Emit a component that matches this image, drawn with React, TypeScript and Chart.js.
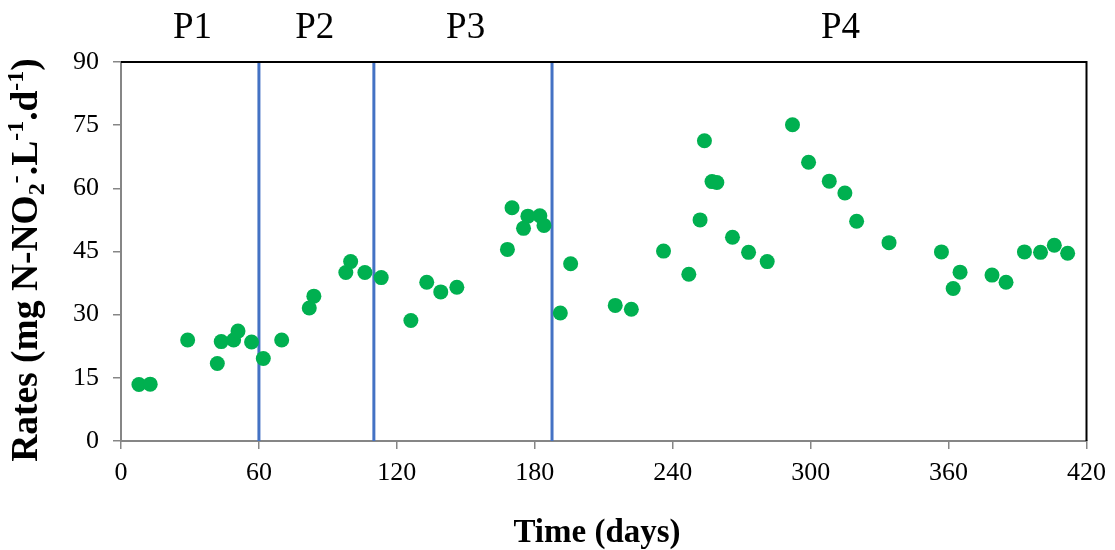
import React, { useEffect, useRef } from "react";
import { Chart, registerables } from "chart.js";

Chart.register(...registerables);

const SERIF = "'Liberation Serif', 'Times New Roman', 'DejaVu Serif', serif";

// ---- Data ----
const days = [
  7.8, 12.7, 29, 41.9, 43.6, 49, 50.9, 56.8, 61.9, 69.9,
  81.9, 83.9, 97.8, 99.9, 106.1, 113.2, 126.1, 133, 139.1, 146.1,
  168.1, 170.1, 175.1, 177, 182.2, 184, 191.1, 195.6,
  215, 222, 236, 247, 251.9, 253.8, 257.1, 259.2, 266, 273, 281.1,
  292.1, 299.1, 308.1, 314.9, 320, 334.1, 356.9, 362, 365, 378.9,
  385, 393, 400, 406, 411.8,
];
const rates = [
  13.4, 13.5, 24.0, 18.4, 23.6, 24.0, 26.1, 23.5, 19.6, 24.0,
  31.6, 34.4, 40.0, 42.6, 40.0, 38.8, 28.6, 37.7, 35.4, 36.5,
  45.5, 55.4, 50.5, 53.4, 53.5, 51.2, 30.4, 42.1,
  32.2, 31.3, 45.1, 39.6, 52.5, 71.3, 61.6, 61.4, 48.4, 44.8, 42.6,
  75.1, 66.2, 61.7, 58.9, 52.2, 47.1, 44.9, 36.2, 40.1, 39.4,
  37.7, 44.9, 44.8, 46.5, 44.6,
];
const phaseBoundaries = [60, 110, 187.5];
const phaseLabels = ["P1", "P2", "P3", "P4"];
const phaseLabelDays = [31.1, 84.3, 149.9, 313];
const xMin = 0;
const xMax = 420;
const xStep = 60;
const yMin = 0;
const yMax = 90;
const yStep = 15;
const xTitle = "Time (days)";
// y-axis title pieces: [text, kind]
const yTitleParts: [string, string][] = [
  ["Rates (mg N-NO", "n"],
  ["2", "sub"],
  ["-", "sup"],
  [".L", "n"],
  ["-1", "sup"],
  [".d", "n"],
  ["-1", "sup"],
  [")", "n"],
];

const POINT_COLOR = "#00B050";
const LINE_COLOR = "#4472C4";
const AXIS_GRAY = "#868686";

const textPlugin = {
  id: "customTexts",
  afterDraw(chart: any) {
    const { ctx, chartArea, scales } = chart;
    ctx.save();
    // top & right frame
    ctx.strokeStyle = "#000";
    ctx.lineWidth = 2;
    ctx.beginPath();
    ctx.moveTo(chartArea.left, chartArea.top);
    ctx.lineTo(chartArea.right, chartArea.top);
    ctx.lineTo(chartArea.right, chartArea.bottom);
    ctx.stroke();

    ctx.fillStyle = "#000";
    // phase labels
    ctx.font = `37px ${SERIF}`;
    ctx.textAlign = "center";
    ctx.textBaseline = "alphabetic";
    phaseLabels.forEach((t, i) => {
      ctx.fillText(t, scales.x.getPixelForValue(phaseLabelDays[i]), 38);
    });

    // x title
    ctx.font = `bold 33px ${SERIF}`;
    ctx.fillText(xTitle, 597, 542);

    // y title (rotated, with sub/superscripts)
    const big = `bold 37.5px ${SERIF}`;
    const small = `bold 24px ${SERIF}`;
    ctx.textAlign = "left";
    let total = 0;
    yTitleParts.forEach(([t, k]) => {
      ctx.font = k === "n" ? big : small;
      total += ctx.measureText(t).width;
    });
    ctx.translate(37, 260);
    ctx.rotate(-Math.PI / 2);
    let x = -total / 2;
    yTitleParts.forEach(([t, k]) => {
      ctx.font = k === "n" ? big : small;
      const dy = k === "sub" ? 7 : k === "sup" ? -14 : 0;
      ctx.fillText(t, x, dy);
      x += ctx.measureText(t).width;
    });
    ctx.restore();
  },
};

export default function App() {
  const ref = useRef<HTMLCanvasElement | null>(null);

  useEffect(() => {
    document.body.style.margin = "0";
    const canvas = ref.current;
    if (!canvas) return;

    const points = days.map((d, i) => ({ x: d, y: rates[i] }));
    const lineSets = phaseBoundaries.map((b) => ({
      type: "scatter" as const,
      data: [
        { x: b, y: yMin },
        { x: b, y: yMax },
      ],
      showLine: true,
      borderColor: LINE_COLOR,
      borderWidth: 3,
      pointRadius: 0,
      order: 2,
    }));

    const chart = new Chart(canvas, {
      type: "scatter",
      data: {
        datasets: [
          {
            data: points,
            backgroundColor: POINT_COLOR,
            borderColor: POINT_COLOR,
            borderWidth: 0,
            pointRadius: 7.5,
            order: 0,
          },
          ...lineSets,
        ] as any,
      },
      options: {
        responsive: false,
        animation: false,
        devicePixelRatio: 1,
        layout: { padding: { top: 62, right: 28, left: 0, bottom: 0 } },
        plugins: {
          legend: { display: false },
          tooltip: { enabled: false },
          title: { display: false },
        },
        scales: {
          x: {
            type: "linear",
            min: xMin,
            max: xMax,
            ticks: {
              stepSize: xStep,
              color: "#000",
              font: { family: SERIF, size: 26 },
              padding: 9,
              maxRotation: 0,
            },
            grid: {
              drawOnChartArea: false,
              tickLength: 8,
              color: AXIS_GRAY,
              lineWidth: 1.5,
            },
            border: { color: AXIS_GRAY, width: 2 },
            afterFit: (scale: any) => {
              scale.height = 109;
            },
          },
          y: {
            type: "linear",
            min: yMin,
            max: yMax,
            ticks: {
              stepSize: yStep,
              color: "#000",
              font: { family: SERIF, size: 26 },
              padding: 14,
            },
            grid: {
              drawOnChartArea: false,
              tickLength: 8,
              color: AXIS_GRAY,
              lineWidth: 1.5,
            },
            border: { color: AXIS_GRAY, width: 2 },
            afterFit: (scale: any) => {
              scale.width = 121;
            },
          },
        },
      },
      plugins: [textPlugin],
    });

    return () => chart.destroy();
  }, []);

  return (
    <div style={{ width: 1115, height: 550 }}>
      <canvas ref={ref} width={1115} height={550} />
    </div>
  );
}
